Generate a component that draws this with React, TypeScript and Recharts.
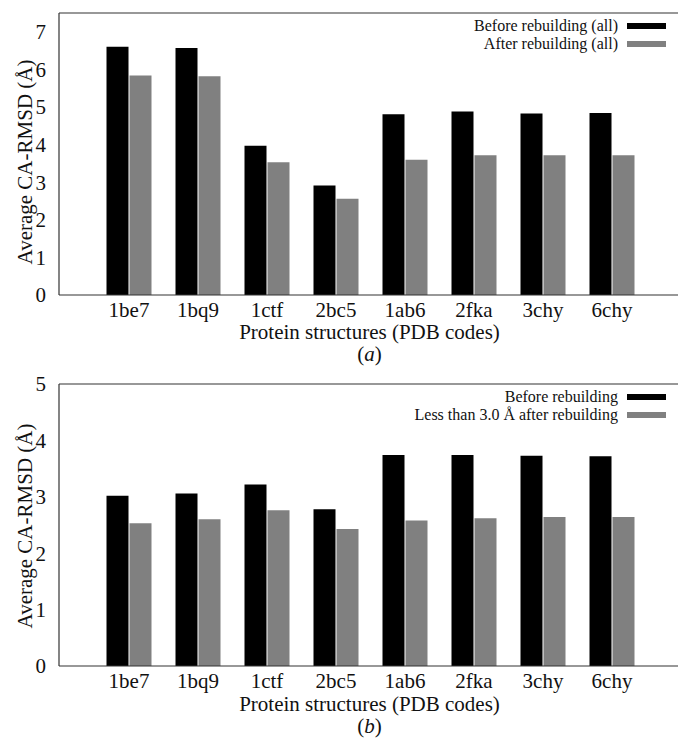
import React from "react";
import { BarChart, Bar, XAxis, YAxis, ReferenceLine } from "recharts";

const categories = ["1be7", "1bq9", "1ctf", "2bc5", "1ab6", "2fka", "3chy", "6chy"];

// panel (a): all structures
const beforeAll = [6.6, 6.57, 3.97, 2.91, 4.81, 4.88, 4.83, 4.84];
const afterAll = [5.84, 5.82, 3.53, 2.56, 3.6, 3.72, 3.72, 3.72];

// panel (b): only those below 3.0 Å after rebuilding
const beforeSubset = [3.02, 3.06, 3.22, 2.78, 3.74, 3.74, 3.73, 3.72];
const afterSubset = [2.53, 2.6, 2.76, 2.43, 2.58, 2.62, 2.64, 2.64];

const ticksA = [0, 1, 2, 3, 4, 5, 6, 7];
const ticksB = [0, 1, 2, 3, 4, 5];

const FONT = '"Liberation Serif", "Times New Roman", serif';
const AXIS = "#333";

const buildRows = (before: number[], after: number[]) =>
  categories.map((name, i) => ({ name, before: before[i], after: after[i] }));

interface PanelProps {
  top: number;
  before: number[];
  after: number[];
  yMax: number;
  ticks: number[];
  legend: [string, string];
  letter: string;
  yLabelCenter: number;
  titleDy: number;
  letterDy: number;
}

function Panel(props: PanelProps) {
  const { top, before, after, yMax, ticks, legend, letter, yLabelCenter, titleDy, letterDy } = props;
  const rows = buildRows(before, after);

  return (
    <div style={{ position: "absolute", left: 0, top, width: 682 }}>
      <BarChart
        width={682}
        height={372}
        data={rows}
        margin={{ top: 13, right: 2, left: 0, bottom: 0 }}
        barSize={22}
        barGap={1}
      >
        <XAxis
          dataKey="name"
          height={77}
          padding={{ left: 35.5, right: 33.5 }}
          axisLine={{ stroke: AXIS, strokeWidth: 1.2 }}
          tickLine={false}
          tickSize={0}
          tickMargin={7}
          tick={{ fill: "#111", fontSize: 21, fontFamily: FONT }}
          interval={0}
          label={({ viewBox }: any) => {
            const cx = viewBox.x + viewBox.width / 2;
            return (
              <g fontFamily={FONT} fill="#111">
                <text x={cx} y={viewBox.y + titleDy} textAnchor="middle" fontSize={21}>
                  Protein structures (PDB codes)
                </text>
                <text x={cx} y={viewBox.y + letterDy} textAnchor="middle" fontSize={21}>
                  (<tspan fontStyle="italic">{letter}</tspan>)
                </text>
              </g>
            );
          }}
        />
        <YAxis
          width={59}
          domain={[0, yMax]}
          ticks={ticks}
          allowDataOverflow
          axisLine={{ stroke: AXIS, strokeWidth: 1.2 }}
          tickLine={false}
          tickSize={0}
          tickMargin={13}
          tick={{ fill: "#111", fontSize: 21, fontFamily: FONT }}
          label={() => (
            <text
              x={25}
              y={yLabelCenter}
              transform={`rotate(-90, 25, ${yLabelCenter})`}
              textAnchor="middle"
              dominantBaseline="central"
              fontFamily={FONT}
              fontSize={21}
              fill="#111"
            >
              Average CA-RMSD (Å)
            </text>
          )}
        />
        <ReferenceLine y={yMax} stroke={AXIS} strokeWidth={1.2} />
        <Bar dataKey="before" fill="#000000" isAnimationActive={false} />
        <Bar dataKey="after" fill="#808080" isAnimationActive={false} />
      </BarChart>

      {/* legend drawn as plain html so it doesn't eat into the plot area */}
      <div
        style={{
          position: "absolute",
          top: 16.5,
          right: 16,
          fontFamily: FONT,
          fontSize: 16,
          color: "#111",
        }}
      >
        {legend.map((text, i) => (
          <div
            key={text}
            style={{ display: "flex", alignItems: "center", justifyContent: "flex-end", height: 18.5 }}
          >
            <span>{text}</span>
            <span
              style={{
                display: "inline-block",
                width: 39,
                height: 6,
                marginLeft: 9,
                background: i === 0 ? "#000000" : "#808080",
              }}
            />
          </div>
        ))}
      </div>
    </div>
  );
}

export default function App() {
  return (
    <div
      style={{
        position: "absolute",
        left: 0,
        top: 0,
        width: 678,
        height: 744,
        overflow: "hidden",
        background: "#fff",
      }}
    >
      <Panel
        top={0}
        before={beforeAll}
        after={afterAll}
        yMax={7.5}
        ticks={ticksA}
        legend={["Before rebuilding (all)", "After rebuilding (all)"]}
        letter="a"
        yLabelCenter={162}
        titleDy={44}
        letterDy={66}
      />
      <Panel
        top={371}
        before={beforeSubset}
        after={afterSubset}
        yMax={5}
        ticks={ticksB}
        legend={["Before rebuilding", "Less than 3.0 Å after rebuilding"]}
        letter="b"
        yLabelCenter={155}
        titleDy={45}
        letterDy={67}
      />
    </div>
  );
}
